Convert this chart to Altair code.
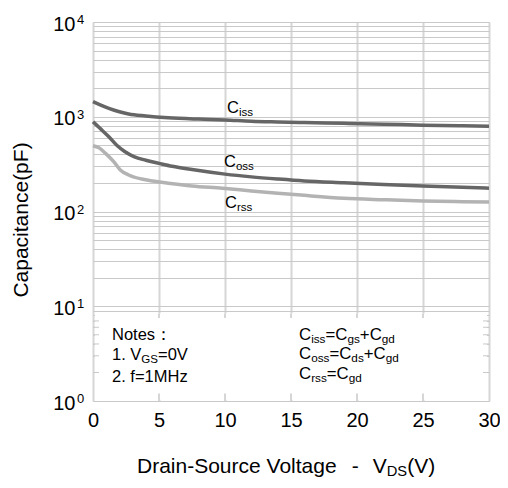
import altair as alt
import pandas as pd

# ---------------- data ----------------
V_ISS = [0, 0.5, 1.2, 2, 2.7, 4, 5.7, 8, 10, 12, 14, 16, 19, 22, 25, 28, 30]
C_ISS = [1443, 1340, 1228, 1130, 1069, 1020, 977, 945, 925, 895, 880, 868, 852, 835, 815, 802, 795]

V_OSS = [0, 0.6, 1.2, 1.8, 2.4, 3.1, 4, 5, 6, 7.5, 10, 12, 14, 16, 19, 22, 25, 28, 30]
C_OSS = [885, 740, 615, 500, 430, 380, 347, 322, 300, 277, 248, 232, 220, 210, 201, 193, 186, 180, 176]

V_RSS = [0, 0.45, 0.95, 1.57, 2.07, 2.7, 3.7, 4.9, 5.7, 7.5, 9.8, 12, 14, 16, 19, 22, 25, 28, 30]
C_RSS = [494, 470, 411, 336, 274, 243, 220, 206, 199, 186, 176, 165, 156, 148, 138, 133, 129, 127, 126]

X_TICKS = [0, 5, 10, 15, 20, 25, 30]
DECADES = [1, 10, 100, 1000, 10000]
EXPONENTS = ["0", "1", "2", "3", "4"]
MINOR = [m * d for d in [1, 10, 100, 1000] for m in range(1, 10)] + [10000]

W, H = 396, 379
FONT = "Liberation Sans"

# ---------------- helpers for rich (subscript) text ----------------
AW = {' ': 278, '(': 333, ')': 333, '-': 333, '.': 278, ':': 278, '=': 584, '+': 584,
      'A': 667, 'C': 722, 'D': 722, 'F': 611, 'G': 778, 'H': 722, 'M': 833, 'N': 722,
      'S': 667, 'V': 667, 'a': 556, 'c': 500, 'd': 556, 'e': 556, 'f': 278, 'g': 556,
      'i': 222, 'l': 222, 'n': 556, 'o': 556, 'p': 556, 'r': 333, 's': 500, 't': 278,
      'u': 556, 'z': 500, '：': 1000}


def tw(s, size):
    return sum(AW.get(ch, 556) for ch in s) * size / 1000.0


def rich(parts, x0, y0, size, sub_ratio=0.7, sub_dy=3):
    rows, x = [], x0
    for part in parts:
        if isinstance(part, (int, float)):
            x += part
            continue
        text, sub = part
        fs = size * sub_ratio if sub else size
        rows.append(dict(t=text, px=x, py=y0 + (sub_dy if sub else 0), fs=fs))
        x += tw(text, fs)
    return rows


labels = []
# curve labels
labels += rich([("C", 0), ("iss", 1)], 134, 90.5, 16.5)
labels += rich([("C", 0), ("oss", 1)], 131, 145, 16.5)
labels += rich([("C", 0), ("rss", 1)], 132, 186, 16.5)
# notes left
labels += rich([("Notes：", 0)], 19, 317.5, 16.5)
labels += rich([("1. V", 0), ("GS", 1), ("=0V", 0)], 19, 338, 16.5)
labels += rich([("2. f=1MHz", 0)], 19, 359.5, 16.5)
# notes right
labels += rich([("C", 0), ("iss", 1), ("=C", 0), ("gs", 1), ("+C", 0), ("gd", 1)], 206, 317.5, 16.8)
labels += rich([("C", 0), ("oss", 1), ("=C", 0), ("ds", 1), ("+C", 0), ("gd", 1)], 206, 337, 16.8)
labels += rich([("C", 0), ("rss", 1), ("=C", 0), ("gd", 1)], 206, 357, 16.8)
# x axis title
labels += rich([("Drain-Source Voltage", 0), 14, ("-", 0), 14, ("V", 0), ("DS", 1), ("(V)", 0)],
               44, 451, 21, sub_ratio=0.7, sub_dy=3)
lab_df = pd.DataFrame(labels)

rows = []
for name, vs, cs in [("Ciss", V_ISS, C_ISS), ("Coss", V_OSS, C_OSS), ("Crss", V_RSS, C_RSS)]:
    for v, c in zip(vs, cs):
        rows.append(dict(series=name, V=v, C=c))
df = pd.DataFrame(rows)

xscale = alt.Scale(domain=[0, 30], nice=False, zero=False)
yscale = alt.Scale(type="log", domain=[1, 10000], nice=False)

lines = alt.Chart(df).mark_line(strokeWidth=3.5, interpolate="monotone").encode(
    x=alt.X("V:Q", scale=xscale, axis=alt.Axis(
        values=X_TICKS, grid=True, gridColor="#d6d6d6", gridWidth=2, domain=False,
        ticks=False, labelFontSize=20, labelFont=FONT, labelColor="#000",
        labelPadding=9, title=None, labelFlush=False)),
    y=alt.Y("C:Q", scale=yscale, axis=alt.Axis(
        values=MINOR, grid=True, gridColor="#c9c9c9", gridWidth=1, domain=False,
        ticks=False, labelFontSize=20, labelFont=FONT, labelColor="#000",
        labelPadding=18, labelOffset=2, labelBaseline="middle", title=None,
        labelExpr="(datum.value==1||datum.value==10||datum.value==100||datum.value==1000||datum.value==10000) ? '10' : ''")),
    color=alt.Color("series:N", scale=alt.Scale(domain=["Ciss", "Coss", "Crss"],
                                               range=["#666666", "#666666", "#b3b3b3"]), legend=None),
    detail="series:N",
)

box_df = pd.DataFrame([dict(x1=0.15, x2=29.85, y1=1.03, y2=8.4)])
box = alt.Chart(box_df).mark_rect(color="white").encode(
    x=alt.X("x1:Q", scale=xscale), x2="x2:Q",
    y=alt.Y("y1:Q", scale=yscale), y2="y2:Q")

edge_df = pd.DataFrame(dict(v=[2, 3, 4, 5, 6, 7]))
left_ticks = alt.Chart(edge_df).mark_rule(color="#c9c9c9", strokeWidth=1).encode(
    x=alt.value(0), x2=alt.value(6), y=alt.Y("v:Q", scale=yscale))
right_ticks = alt.Chart(edge_df).mark_rule(color="#c9c9c9", strokeWidth=1).encode(
    x=alt.value(W - 6), x2=alt.value(W), y=alt.Y("v:Q", scale=yscale))

vt_df = pd.DataFrame(dict(v=[5, 10, 15, 20, 25], lo=[1] * 5, hi=[1.2] * 5, top=[8.4] * 5, top2=[7.5] * 5))
bot_ticks = alt.Chart(vt_df).mark_rule(color="#d6d6d6", strokeWidth=2).encode(
    x=alt.X("v:Q", scale=xscale), y=alt.Y("lo:Q", scale=yscale), y2="hi:Q")
top_ticks = alt.Chart(vt_df).mark_rule(color="#d6d6d6", strokeWidth=2).encode(
    x=alt.X("v:Q", scale=xscale), y=alt.Y("top:Q", scale=yscale), y2="top2:Q")

exp_df = pd.DataFrame(dict(v=DECADES, e=EXPONENTS))
exps = alt.Chart(exp_df).mark_text(align="left", baseline="alphabetic", fontSize=13,
                                   font=FONT, color="#000", dy=2).encode(
    x=alt.value(-16), y=alt.Y("v:Q", scale=yscale), text="e:N")

texts = alt.Chart(lab_df).mark_text(align="left", baseline="alphabetic", font=FONT, color="#000").encode(
    x=alt.X("px:Q", scale=None, axis=None),
    y=alt.Y("py:Q", scale=None, axis=None),
    size=alt.Size("fs:Q", scale=None, legend=None),
    text="t:N")

ytitle = alt.Chart(pd.DataFrame(dict(t=["Capacitance(pF)"]))).mark_text(
    angle=270, align="center", baseline="middle", fontSize=21, font=FONT, color="#000").encode(
    x=alt.value(-71), y=alt.value(198), text="t:N")

chart = alt.layer(lines, box, left_ticks, right_ticks, bot_ticks, top_ticks, exps, texts, ytitle).properties(
    width=W, height=H,
    autosize=alt.AutoSizeParams(type="none"),
    padding={"left": 85, "top": 14, "right": 11, "bottom": 79},
).configure_view(stroke="#bdbdbd", strokeWidth=2).configure(background="white")

chart.save("out.html", embed_options={"renderer": "svg", "actions": False})
